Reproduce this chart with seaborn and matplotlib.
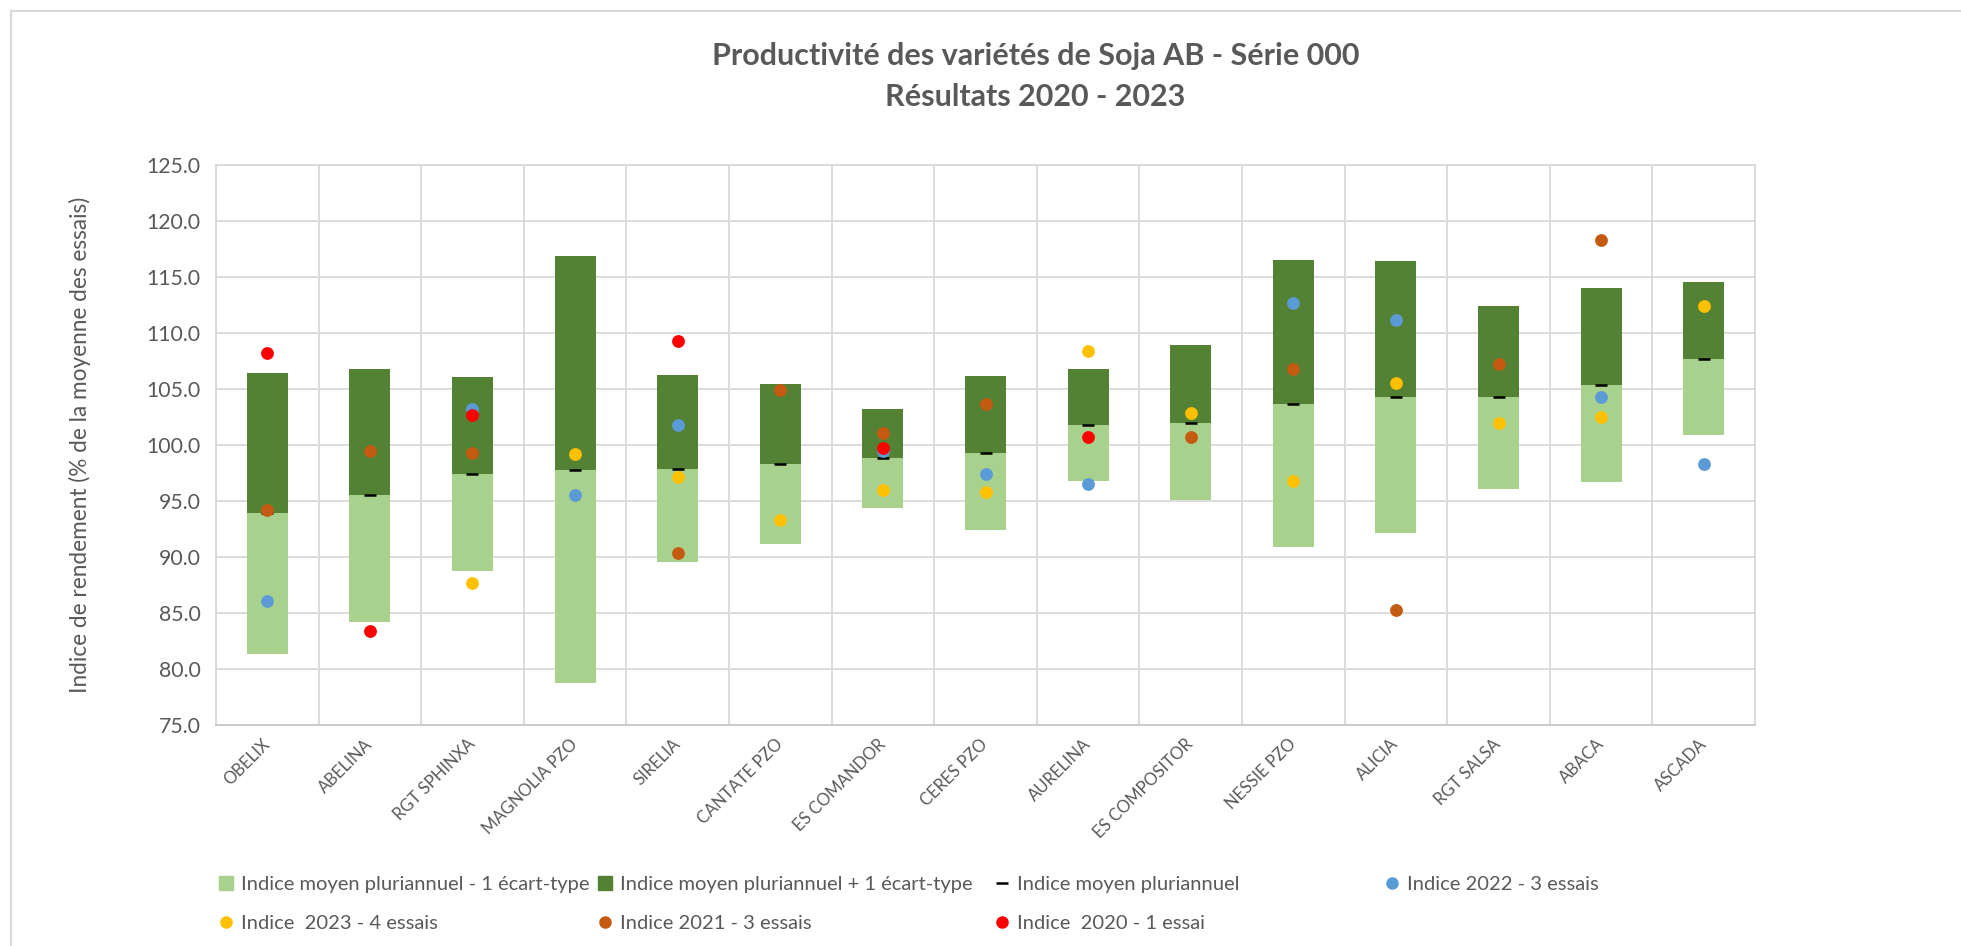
import numpy as np
import pandas as pd
import seaborn as sns
import matplotlib.pyplot as plt
from matplotlib.patches import Patch
from matplotlib.lines import Line2D
from matplotlib.ticker import FormatStrFormatter

# Variétés et indices
varieties = ["OBELIX", "ABELINA", "RGT SPHINXA", "MAGNOLIA PZO", "SIRELIA", "CANTATE PZO",
             "ES COMANDOR", "CERES PZO", "AURELINA", "ES COMPOSITOR", "NESSIE PZO", "ALICIA",
             "RGT SALSA", "ABACA", "ASCADA"]
mean_idx = [93.9, 95.5, 97.4, 97.8, 97.9, 98.3, 98.8, 99.3, 101.8, 102.0, 103.7, 104.25,
            104.25, 105.35, 107.7]
sd_idx = [12.55, 11.3, 8.65, 19.05, 8.35, 7.15, 4.4, 6.9, 5.0, 6.9, 12.85, 12.15, 8.15,
          8.65, 6.85]
nan = np.nan
idx_2022 = [86.1, nan, 103.2, 95.5, 101.8, nan, 99.5, 97.4, 96.5, nan, 112.7, 111.2, nan,
            104.25, 98.3]
idx_2023 = [nan, nan, 87.7, 99.2, 97.1, 93.3, 96.0, 95.8, 108.4, 102.85, 96.8, 105.5, 102.0,
            102.5, 112.4]
idx_2021 = [94.2, 99.5, 99.3, nan, 90.4, 104.9, 101.1, 103.7, nan, 100.7, 106.8, 85.3, 107.2,
            118.3, nan]
idx_2020 = [108.2, 83.4, 102.7, nan, 109.3, nan, 99.7, nan, 100.7, nan, nan, nan, nan, nan, nan]

LIGHT = "#A9D18E"
DARK = "#548235"
BLUE = "#5B9BD5"
YELLOW = "#FFC000"
ORANGE = "#C55A11"
RED = "#FF0000"
GREY = "#595959"
GRID = "#D9D9D9"

df = pd.DataFrame({"variete": varieties, "moy": mean_idx, "et": sd_idx})
df["bas"] = df["moy"] - df["et"]

sns.set_theme(style="white")
plt.rcParams["font.family"] = ["Lato", "DejaVu Sans"]

fig = plt.figure(figsize=(19.61, 9.46), dpi=100)
ax = fig.add_axes([0.1101, 0.2336, 0.7849, 0.592])

# barres empilées : moyenne - 1 écart-type / moyenne + 1 écart-type
sns.barplot(data=df, x="variete", y="et", bottom=df["bas"], color=LIGHT, saturation=1,
            width=0.4, errorbar=None, linewidth=0, ax=ax, zorder=2)
sns.barplot(data=df, x="variete", y="et", bottom=df["moy"], color=DARK, saturation=1,
            width=0.4, errorbar=None, linewidth=0, ax=ax, zorder=2)

# indice moyen
sns.scatterplot(x=varieties, y=mean_idx, marker="_", s=80, color="black",
                edgecolor="black", linewidth=1.8, ax=ax, zorder=3, legend=False)

# indices annuels
for vals, col in [(idx_2022, BLUE), (idx_2023, YELLOW), (idx_2021, ORANGE), (idx_2020, RED)]:
    sns.scatterplot(x=varieties, y=vals, color=col, s=85, linewidth=0, ax=ax, zorder=4,
                    legend=False)

ax.set_ylim(75, 125)
ax.set_xlim(-0.5, len(varieties) - 0.5)
ax.set_yticks(np.arange(75, 126, 5))
ax.yaxis.set_major_formatter(FormatStrFormatter("%.1f"))
ax.set_xticks(np.arange(-0.5, len(varieties), 1), minor=True)
ax.set_axisbelow(True)
ax.yaxis.grid(True, color=GRID, linewidth=1.3)
ax.xaxis.grid(True, which="minor", color=GRID, linewidth=1.3)
ax.xaxis.grid(False, which="major")
for sp in ax.spines.values():
    sp.set_color(GRID)
    sp.set_linewidth(1.3)
ax.spines["bottom"].set_color("#C8C8C8")

ax.tick_params(axis="both", which="both", length=0, colors=GREY)
ax.tick_params(axis="y", labelsize=15.3, pad=11)
ax.tick_params(axis="x", labelsize=12, pad=12)
for lab in ax.get_xticklabels():
    lab.set_rotation(45)
    lab.set_ha("right")
    lab.set_va("center")
    lab.set_rotation_mode("anchor")

ax.set_xlabel("")
ax.set_ylabel("Indice de rendement (% de la moyenne des essais)", fontsize=16.3, color=GREY)
ax.yaxis.set_label_coords(-0.081, 0.5)

# titre
fig.text(0.528, 1 - 56 / 946, "Productivité des variétés de Soja AB - Série 000",
         ha="center", va="center", fontsize=22, fontweight="bold", color=GREY)
fig.text(0.528, 1 - 97 / 946, "Résultats 2020 - 2023",
         ha="center", va="center", fontsize=22, fontweight="bold", color=GREY)

# légende en colonnes
h_light = Patch(color=LIGHT)
h_dark = Patch(color=DARK)
h_mean = Line2D([], [], color="black", marker="_", ls="none", markersize=9, mew=1.8)
h_2022 = Line2D([], [], color=BLUE, marker="o", ls="none", markersize=8)
h_2023 = Line2D([], [], color=YELLOW, marker="o", ls="none", markersize=8)
h_2021 = Line2D([], [], color=ORANGE, marker="o", ls="none", markersize=8)
h_2020 = Line2D([], [], color=RED, marker="o", ls="none", markersize=8)

columns = [
    (219, [h_light, h_2023], ["Indice moyen pluriannuel - 1 écart-type", "Indice  2023 - 4 essais"]),
    (598, [h_dark, h_2021], ["Indice moyen pluriannuel + 1 écart-type", "Indice 2021 - 3 essais"]),
    (995, [h_mean, h_2020], ["Indice moyen pluriannuel", "Indice  2020 - 1 essai"]),
    (1385, [h_2022], ["Indice 2022 - 3 essais"]),
]
for xpx, hs, labs in columns:
    fig.legend(handles=hs, labels=labs, loc="upper left",
               bbox_to_anchor=(xpx / 1961, 1 - 876 / 946), frameon=False,
               fontsize=14.5, labelcolor=GREY, handlelength=0.7, handleheight=0.7,
               handletextpad=0.4, borderpad=0, borderaxespad=0, labelspacing=1.1)

# cadre du graphique
fig.add_artist(Line2D([11 / 1961, 1], [1 - 11 / 946, 1 - 11 / 946], color=GRID, lw=1.5))
fig.add_artist(Line2D([11 / 1961, 11 / 1961], [0, 1 - 11 / 946], color=GRID, lw=1.5))

fig.savefig("out.png", dpi=100)
